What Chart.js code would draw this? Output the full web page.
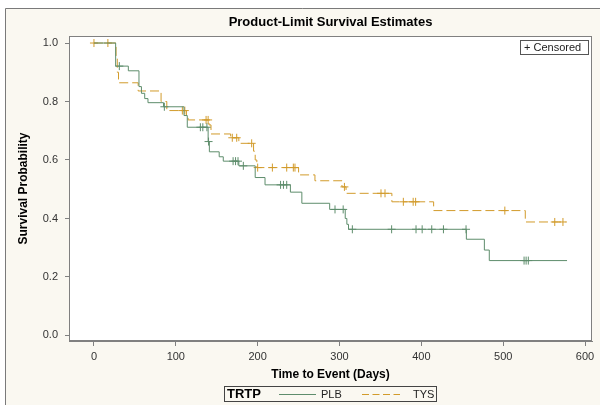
<!DOCTYPE html>
<html><head><meta charset="utf-8">
<script src="https://cdn.jsdelivr.net/npm/chart.js@4.4.1/dist/chart.umd.min.js"></script>
<style>html,body{margin:0;padding:0;background:#fff}#wrap{width:600px;height:405px}</style>
</head><body><div id="wrap"><canvas id="c" width="600" height="405"></canvas></div>
<script>
const chartTitle = 'Product-Limit Survival Estimates';
const xTitle = 'Time to Event (Days)';
const yTitle = 'Survival Probability';
const groupLabel = 'TRTP';
const seriesNames = ['PLB', 'TYS'];
const censoredLabel = '+ Censored';
const xTicks = [0, 100, 200, 300, 400, 500, 600];
const yTicks = [0, 0.2, 0.4, 0.6, 0.8, 1.0];

const plbTimes = [0, 26.5, 42, 55, 58, 62, 66, 85, 110, 114, 139.5, 141, 153, 158, 177, 197, 209, 240, 254, 288, 307, 309, 311, 455, 477, 483, 578];
const plbSurv  = [1.0, 0.921, 0.905, 0.851, 0.828, 0.81, 0.796, 0.782, 0.752, 0.712, 0.663, 0.628, 0.611, 0.596, 0.58, 0.54, 0.515, 0.49, 0.452, 0.431, 0.40, 0.38, 0.363, 0.329, 0.292, 0.256, 0.256];
const plbCensor = [31, 86, 130, 133, 138, 140, 170, 173, 176, 182.5, 228, 231.5, 235.5, 294.5, 304.5, 315.7, 363.7, 393.5, 401, 412.7, 427, 454.6, 525.5, 528, 530.7];

const tysTimes = [0, 27, 28.5, 30, 54, 82, 89, 113, 115, 140.5, 143, 167, 177, 195, 197, 199, 250, 270, 303, 308, 364, 415, 527, 576];
const tysSurv  = [1.0, 0.95, 0.9, 0.864, 0.836, 0.80, 0.769, 0.753, 0.737, 0.72, 0.689, 0.676, 0.657, 0.63, 0.60, 0.574, 0.549, 0.529, 0.508, 0.486, 0.457, 0.427, 0.388, 0.388];
const tysCensor = [0, 17, 108, 111, 137, 139.5, 169, 174.4, 192.7, 200, 218, 235.5, 243.6, 245.6, 306, 350.7, 355.6, 378, 390, 393, 502, 563, 573];

const PLB_COLOR = '#5e8d6c';
const TYS_COLOR = '#d29b2b';
const FONT = "'Liberation Sans', Arial, sans-serif";

function survAt(times, surv, t) {
  let v = surv[0];
  for (let i = 0; i < times.length; i++) { if (times[i] <= t) v = surv[i]; }
  return v;
}
function curve(times, surv) { return times.map((t, i) => ({x: t, y: surv[i]})); }
function marks(cens, times, surv) { return cens.map(t => ({x: t, y: survAt(times, surv, t)})); }

const decor = {
  id: 'decor',
  beforeDraw(chart) {
    const ctx = chart.ctx, a = chart.chartArea;
    ctx.save();
    ctx.fillStyle = '#ffffff';
    ctx.fillRect(0, 0, chart.width, chart.height);
    ctx.fillStyle = '#faf8f1';
    ctx.fillRect(5, 8, chart.width - 5, chart.height - 8);
    ctx.strokeStyle = '#7a7a7a';
    ctx.lineWidth = 1;
    ctx.beginPath();
    ctx.moveTo(5.5, chart.height);
    ctx.lineTo(5.5, 8.5);
    ctx.lineTo(chart.width, 8.5);
    ctx.stroke();
    ctx.fillStyle = '#ffffff';
    ctx.fillRect(a.left, a.top, a.right - a.left, a.bottom - a.top);
    ctx.restore();
  },
  afterDraw(chart) {
    const ctx = chart.ctx, a = chart.chartArea;
    ctx.save();
    ctx.strokeStyle = '#808080';
    ctx.lineWidth = 1;
    ctx.strokeRect(Math.round(a.left) + 0.5, Math.round(a.top) + 0.5, Math.round(a.right - a.left) - 1, Math.round(a.bottom - a.top) - 1);
    // title
    ctx.fillStyle = '#000';
    ctx.font = "bold 13px " + FONT;
    ctx.textAlign = 'center';
    ctx.textBaseline = 'middle';
    ctx.fillText(chartTitle, (a.left + a.right) / 2, 22);
    // censored box
    ctx.strokeStyle = '#555';
    ctx.strokeRect(520.5, 40.5, 68, 14);
    ctx.font = "11px " + FONT;
    ctx.textAlign = 'left';
    ctx.fillStyle = '#222';
    ctx.fillText(censoredLabel, 524, 48);
    // legend
    ctx.strokeStyle = '#444';
    ctx.strokeRect(224.5, 386.5, 212, 15);
    ctx.fillStyle = '#000';
    ctx.font = "bold 13px " + FONT;
    ctx.fillText(groupLabel, 227, 394.5);
    ctx.font = "11px " + FONT;
    ctx.fillStyle = '#222';
    ctx.fillText(seriesNames[0], 321, 394.5);
    ctx.fillText(seriesNames[1], 413, 394.5);
    ctx.lineWidth = 1;
    ctx.strokeStyle = PLB_COLOR;
    ctx.beginPath(); ctx.moveTo(279, 394.5); ctx.lineTo(316, 394.5); ctx.stroke();
    ctx.strokeStyle = TYS_COLOR;
    ctx.setLineDash([7, 3.5]);
    ctx.beginPath(); ctx.moveTo(362, 394.5); ctx.lineTo(400, 394.5); ctx.stroke();
    ctx.restore();
  }
};

Chart.defaults.font.family = FONT;
new Chart(document.getElementById('c'), {
  type: 'line',
  data: {
    datasets: [
      {label: seriesNames[0], data: curve(plbTimes, plbSurv), stepped: 'before', borderColor: PLB_COLOR, borderWidth: 1, pointRadius: 0, fill: false},
      {label: seriesNames[1], data: curve(tysTimes, tysSurv), stepped: 'before', borderColor: TYS_COLOR, borderWidth: 1, borderDash: [9, 4], pointRadius: 0, fill: false},
      {type: 'scatter', label: seriesNames[0] + ' censored', data: marks(plbCensor, plbTimes, plbSurv), pointStyle: 'cross', pointRadius: 4, borderColor: PLB_COLOR, pointBorderWidth: 1, showLine: false},
      {type: 'scatter', label: seriesNames[1] + ' censored', data: marks(tysCensor, tysTimes, tysSurv), pointStyle: 'cross', pointRadius: 4, borderColor: TYS_COLOR, pointBorderWidth: 1, showLine: false}
    ]
  },
  options: {
    responsive: false,
    animation: false,
    devicePixelRatio: 1,
    layout: {padding: {left: 0, top: 36, right: 8, bottom: 0}},
    plugins: {legend: {display: false}, title: {display: false}, tooltip: {enabled: false}},
    scales: {
      x: {
        type: 'linear', min: -30.5, max: 608.5,
        afterBuildTicks: s => { s.ticks = xTicks.map(v => ({value: v})); },
        afterFit: s => { s.height = 64; },
        ticks: {font: {size: 11}, color: '#333', padding: 4, maxRotation: 0, autoSkip: false},
        grid: {drawOnChartArea: false, drawTicks: true, tickLength: 5, color: '#808080'},
        border: {display: true, color: '#808080'},
        title: {display: true, text: xTitle, color: '#000', font: {size: 12, weight: 'bold'}, padding: {top: 0, bottom: 23}}
      },
      y: {
        type: 'linear', min: -0.019, max: 1.024,
        afterBuildTicks: s => { s.ticks = yTicks.map(v => ({value: v})); },
        afterFit: s => { s.width = 69; },
        ticks: {font: {size: 11}, color: '#333', padding: 7, callback: v => Number(v).toFixed(1)},
        grid: {drawOnChartArea: false, drawTicks: true, tickLength: 4, color: '#808080'},
        border: {display: true, color: '#808080'},
        title: {display: true, text: yTitle, color: '#000', font: {size: 12, weight: 'bold'}, padding: {top: 16, bottom: 0}}
      }
    }
  },
  plugins: [decor]
});
</script></body></html>
